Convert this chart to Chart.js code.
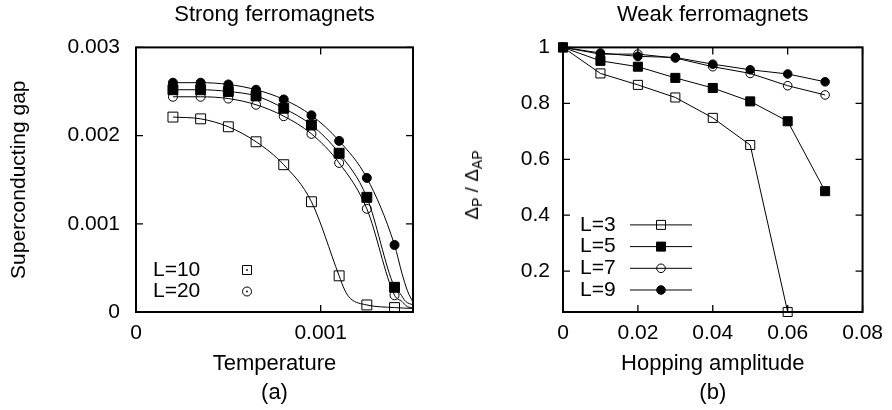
<!DOCTYPE html>
<html>
<head>
<meta charset="utf-8">
<title>Strong and weak ferromagnets</title>
<script src="https://cdn.jsdelivr.net/npm/chart.js@4.4.1/dist/chart.umd.min.js"></script>
<style>
  body { margin: 0; background: #fff; }
  #wrap { position: relative; width: 892px; height: 410px; }
  .box { position: absolute; top: 0; width: 446px; height: 410px; }
  #boxA { left: 0; }
  #boxB { left: 446px; }
  #ylabB {
    position: absolute; left: 473px; top: 185px;
    transform: translate(-50%, -50%) rotate(-90deg);
    font: 19px "Liberation Sans", Arial, sans-serif; color: #000; white-space: nowrap;
  }
  #ylabB sub { font-size: 14px; vertical-align: -4px; }
</style>
</head>
<body>
<div id="wrap">
  <div class="box" id="boxA"><canvas id="chartA"></canvas></div>
  <div class="box" id="boxB"><canvas id="chartB"></canvas></div>
  <div id="ylabB">&Delta;<sub>P</sub> / &Delta;<sub>AP</sub></div>
</div>
<script>
// (a) strong ferromagnets: gap vs temperature
const tempA = [0.0002, 0.00035, 0.0005, 0.00065, 0.0008, 0.00095, 0.0011, 0.00125, 0.0014];
const gapOpenSq = [0.00221, 0.00219, 0.00210, 0.00193, 0.00167, 0.00125, 0.00041, 0.00008, 0.00005];
const gapFilledSq = [0.00252, 0.00252, 0.00250, 0.00245, 0.00231, 0.00212, 0.00180, 0.00130, 0.00028];
const gapOpenCirc = [0.00244, 0.00244, 0.00242, 0.00235, 0.00222, 0.00202, 0.00169, 0.00117, 0.00019];
const gapFilledCirc = [0.00260, 0.00260, 0.00258, 0.00252, 0.00241, 0.00223, 0.00194, 0.00152, 0.00076];

// where the fitted curves run on past the computed points
const tailTOpenSq = [0.00113, 0.00116, 0.0015];
const tailGOpenSq = [0.00025, 0.000155, 0.00004];
const tailTFilledSq = [0.00143, 0.00146, 0.0015];
const tailGFilledSq = [0.00021, 0.00012, 0.00008];
const tailTOpenCirc = [0.00144, 0.00147, 0.0015];
const tailGOpenCirc = [0.00012, 0.00006, 0.00005];
const tailTFilledCirc = [0.00144, 0.00147, 0.0015];
const tailGFilledCirc = [0.00044, 0.00024, 0.00011];

const xTicksA = [0, 0.001];
const yTicksA = [0, 0.001, 0.002, 0.003];
const legendA = ['L=10', 'L=20'];

// (b) weak ferromagnets: gap ratio vs hopping amplitude
const hopB = [0, 0.01, 0.02, 0.03, 0.04, 0.05, 0.06, 0.07];
const ratioL3 = [1, 0.907, 0.866, 0.821, 0.748, 0.651, 0.054];
const ratioL5 = [1, 0.952, 0.931, 0.891, 0.855, 0.807, 0.736, 0.486];
const ratioL7 = [1, 0.976, 0.976, 0.962, 0.931, 0.907, 0.863, 0.830];
const ratioL9 = [1, 0.980, 0.968, 0.964, 0.940, 0.920, 0.905, 0.877];

const xTicksB = [0, 0.02, 0.04, 0.06, 0.08];
const yTicksB = [0.2, 0.4, 0.6, 0.8, 1];
const legendB = ['L=3', 'L=5', 'L=7', 'L=9'];

const FONT = '"Liberation Sans", Arial, sans-serif';
Chart.defaults.font.family = FONT;
Chart.defaults.font.size = 21;
Chart.defaults.color = '#000';

function pts(xs, ys) {
  return ys.map((y, i) => ({ x: xs[i], y: y }));
}
function curve(xs, ys, tx, ty) {
  return pts(xs, ys).concat(pts(tx, ty)).sort((a, b) => a.x - b.x);
}

function marker(ctx, style, x, y, r) {
  ctx.save();
  ctx.lineWidth = 1;
  ctx.strokeStyle = '#000';
  ctx.fillStyle = '#000';
  ctx.beginPath();
  if (style.indexOf('sq') >= 0) ctx.rect(x - r, y - r, 2 * r, 2 * r);
  else ctx.arc(x, y, r, 0, Math.PI * 2);
  if (style.indexOf('filled') >= 0) ctx.fill();
  ctx.stroke();
  if (style.indexOf('dot') >= 0) {
    ctx.beginPath();
    ctx.arc(x, y, 0.9, 0, Math.PI * 2);
    ctx.fill();
  }
  ctx.restore();
}

// gnuplot style box with inward ticks on all four sides, plus the key
const framePlugin = {
  id: 'frame',
  afterDraw(chart, args, opts) {
    const ctx = chart.ctx;
    const a = chart.chartArea;
    const xs = chart.scales.x, ys = chart.scales.y;
    ctx.save();
    ctx.strokeStyle = '#000';
    ctx.lineWidth = 1.3;
    ctx.beginPath();
    xs.ticks.forEach(t => {
      const px = xs.getPixelForValue(t.value);
      ctx.moveTo(px, a.bottom); ctx.lineTo(px, a.bottom - 7);
      ctx.moveTo(px, a.top); ctx.lineTo(px, a.top + 7);
    });
    ys.ticks.forEach(t => {
      const py = ys.getPixelForValue(t.value);
      ctx.moveTo(a.left, py); ctx.lineTo(a.left + 7, py);
      ctx.moveTo(a.right, py); ctx.lineTo(a.right - 7, py);
    });
    ctx.stroke();
    ctx.lineWidth = 2;
    ctx.strokeRect(a.left, a.top, a.right - a.left, a.bottom - a.top);

    ctx.font = '21px ' + FONT;
    ctx.fillStyle = '#000';
    ctx.textBaseline = 'middle';
    opts.labels.forEach((lab, i) => {
      const y = a.bottom - opts.bottom - (opts.labels.length - 1 - i) * opts.step;
      ctx.fillText(lab, a.left + opts.textX, y);
      if (opts.lineFrom != null) {
        ctx.lineWidth = 1;
        ctx.beginPath();
        ctx.moveTo(a.left + opts.lineFrom, y);
        ctx.lineTo(a.left + opts.lineTo, y);
        ctx.stroke();
      }
      marker(ctx, opts.styles[i], a.left + opts.markX, y, opts.sizes[i]);
    });
    ctx.restore();
  }
};

function axis(ticks, fit, pad, title) {
  return {
    type: 'linear',
    min: ticks.min, max: ticks.max,
    grid: { display: false, drawTicks: false },
    border: { display: false },
    afterBuildTicks: s => { s.ticks = ticks.list.map(v => ({ value: v })); },
    afterFit: fit,
    ticks: { padding: pad, autoSkip: false, maxRotation: 0, callback: v => String(v) },
    title: title
  };
}

function pointSet(data, style, r) {
  return {
    data: data,
    showLine: false,
    pointStyle: style.indexOf('sq') >= 0 ? 'rect' : 'circle',
    pointRadius: r,
    pointBorderWidth: 1,
    pointBorderColor: '#000',
    pointBackgroundColor: style.indexOf('filled') >= 0 ? '#000' : 'rgba(0,0,0,0)',
    clip: false
  };
}
function lineSet(data, tension) {
  return {
    data: data,
    borderColor: '#000',
    borderWidth: 1,
    pointRadius: 0,
    cubicInterpolationMode: tension ? 'monotone' : 'default',
    tension: 0,
    clip: false
  };
}

const xTitleFont = { size: 22, lineHeight: 1.3 };
const plotTitle = text => ({ display: true, text: text, fullSize: false,
  font: { size: 22, weight: 'normal' }, padding: { top: 2, bottom: 19 } });

new Chart(document.getElementById('chartA'), {
  type: 'line',
  data: {
    datasets: [
      lineSet(curve(tempA, gapOpenSq, tailTOpenSq, tailGOpenSq), true),
      lineSet(curve(tempA, gapFilledSq, tailTFilledSq, tailGFilledSq), true),
      lineSet(curve(tempA, gapOpenCirc, tailTOpenCirc, tailGOpenCirc), true),
      lineSet(curve(tempA, gapFilledCirc, tailTFilledCirc, tailGFilledCirc), true),
      pointSet(pts(tempA, gapOpenSq), 'sq', 7),
      pointSet(pts(tempA, gapFilledSq), 'sq filled', 7),
      pointSet(pts(tempA, gapOpenCirc), 'circ', 4.5),
      pointSet(pts(tempA, gapFilledCirc), 'circ filled', 4.5)
    ]
  },
  options: {
    responsive: true, maintainAspectRatio: false, animation: false,
    layout: { padding: { left: 0, right: 33, top: 0, bottom: 0 } },
    scales: {
      x: axis({ min: 0, max: 0.0015, list: xTicksA }, s => { s.height = 98; }, 9,
        { display: true, text: ['Temperature', '(a)'], font: xTitleFont, padding: { top: 0, bottom: 3 } }),
      y: axis({ min: 0, max: 0.003, list: yTicksA }, s => { s.width = 136; }, 16,
        { display: true, text: 'Superconducting gap', font: { size: 21 }, padding: { top: 7, bottom: 0 } })
    },
    plugins: {
      legend: { display: false },
      tooltip: { enabled: false },
      title: plotTitle('Strong ferromagnets'),
      frame: { labels: legendA, styles: ['sq dot', 'circ dot'], sizes: [4.5, 4.5],
        textX: 17, markX: 111, bottom: 20.5, step: 21.5, lineFrom: null }
    }
  },
  plugins: [framePlugin]
});

new Chart(document.getElementById('chartB'), {
  type: 'line',
  data: {
    datasets: [
      Object.assign(lineSet(pts(hopB, ratioL3), false), pointSet(pts(hopB, ratioL3), 'sq', 6.4), { showLine: true }),
      Object.assign(lineSet(pts(hopB, ratioL5), false), pointSet(pts(hopB, ratioL5), 'sq filled', 6.4), { showLine: true }),
      Object.assign(lineSet(pts(hopB, ratioL7), false), pointSet(pts(hopB, ratioL7), 'circ', 4.3), { showLine: true }),
      Object.assign(lineSet(pts(hopB, ratioL9), false), pointSet(pts(hopB, ratioL9), 'circ filled', 4.3), { showLine: true })
    ]
  },
  options: {
    responsive: true, maintainAspectRatio: false, animation: false,
    layout: { padding: { left: 0, right: 25, top: 0, bottom: 0 } },
    scales: {
      x: axis({ min: 0, max: 0.08, list: xTicksB }, s => { s.height = 98; }, 9,
        { display: true, text: ['Hopping amplitude', '(b)'], font: xTitleFont, padding: { top: 0, bottom: 3 } }),
      y: axis({ min: 0.054, max: 1, list: yTicksB }, s => { s.width = 117; }, 13,
        { display: false })
    },
    plugins: {
      legend: { display: false },
      tooltip: { enabled: false },
      title: plotTitle('Weak ferromagnets'),
      frame: { labels: legendB, styles: ['sq', 'sq filled', 'circ', 'circ filled'], sizes: [4.5, 4.5, 4.3, 4.3],
        textX: 17, markX: 98, bottom: 22, step: 21.7, lineFrom: 67, lineTo: 129 }
    }
  },
  plugins: [framePlugin]
});
</script>
</body>
</html>
